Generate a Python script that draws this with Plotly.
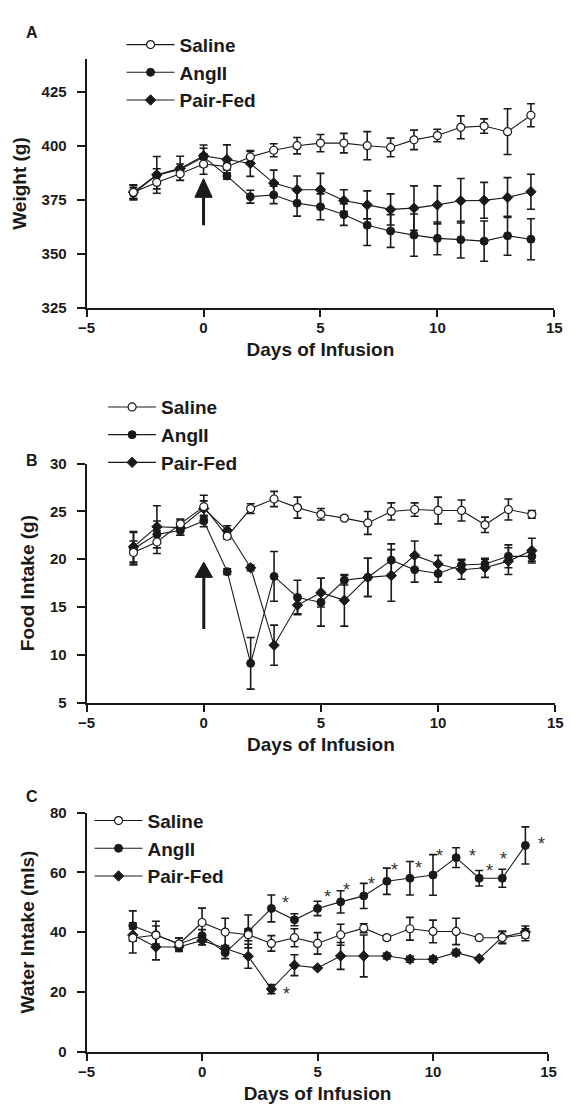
import plotly.graph_objects as go

# ---------------- data ----------------
days = [-3, -2, -1, 0, 1, 2, 3, 4, 5, 6, 7, 8, 9, 10, 11, 12, 13, 14]
series_names = ["Saline", "AngII", "Pair-Fed"]

# Panel A: body weight (g)
saline_w = [378.4, 383.0, 387.0, 391.5, 390.3, 394.8, 397.9, 400.0, 401.2, 401.2, 400.0, 399.2, 402.7, 404.7, 408.5, 409.1, 406.5, 414.1]
saline_w_err = [3.5, 3.0, 3.0, 4.7, 1.5, 2.5, 3.0, 3.8, 4.0, 4.5, 6.5, 4.3, 4.5, 2.9, 5.3, 3.3, 10.6, 5.3]
angii_w = [378.0, 386.3, 389.0, 394.8, 386.0, 376.4, 377.2, 373.4, 371.7, 368.1, 363.2, 360.5, 358.6, 357.1, 356.5, 355.8, 358.3, 356.7]
angii_w_err = [2.5, 3.0, 2.5, 4.0, 1.5, 3.0, 4.0, 6.0, 6.0, 5.0, 9.4, 7.6, 9.8, 7.6, 8.5, 9.3, 9.0, 9.5]
pf_w = [378.5, 386.5, 389.5, 395.3, 393.6, 391.8, 382.7, 379.6, 379.6, 374.6, 372.6, 370.5, 371.1, 372.6, 374.5, 374.7, 376.0, 378.7]
pf_w_err = [3.0, 8.5, 5.6, 5.0, 6.8, 6.0, 6.0, 6.4, 7.6, 5.0, 6.5, 7.2, 10.3, 8.8, 10.3, 8.3, 9.2, 8.1]

# Panel B: food intake (g)
saline_f = [20.7, 21.8, 23.7, 25.5, 22.4, 25.3, 26.3, 25.4, 24.7, 24.3, 23.8, 25.0, 25.2, 25.1, 25.1, 23.6, 25.2, 24.7]
saline_f_err = [1.2, 1.2, 0.5, 1.2, 0.3, 0.5, 0.8, 1.1, 0.6, 0.2, 1.2, 0.9, 0.7, 1.4, 1.1, 0.8, 1.1, 0.4]
angii_f = [21.1, 22.6, 23.0, 24.0, 18.7, 9.1, 18.2, 16.0, 15.5, 17.8, 18.1, 19.9, 18.9, 18.5, 19.4, 19.5, 20.3, 20.3]
angii_f_err = [1.7, 1.4, 0.5, 0.6, 0.3, 2.7, 2.6, 1.8, 2.5, 0.5, 2.0, 1.7, 1.3, 0.9, 0.6, 0.5, 1.2, 0.5]
pf_f = [21.3, 23.4, 23.3, 25.3, 23.0, 19.1, 11.0, 15.2, 16.5, 15.7, 18.1, 18.3, 20.4, 19.5, 18.9, 19.1, 19.8, 20.9]
pf_f_err = [1.6, 2.2, 0.8, 0.8, 0.5, 0.3, 2.1, 0.9, 1.5, 2.7, 2.0, 2.7, 1.5, 0.9, 1.0, 1.0, 1.4, 1.3]

# Panel C: water intake (mls)
saline_wi = [38.0, 39.0, 36.0, 43.2, 40.0, 39.1, 36.2, 38.1, 36.2, 39.1, 41.3, 38.1, 41.1, 40.2, 40.2, 38.1, 38.1, 39.1]
saline_wi_err = [5.0, 3.0, 2.0, 4.8, 4.6, 2.0, 2.6, 3.0, 3.6, 3.5, 1.5, 0.8, 3.8, 3.8, 4.4, 0.5, 2.0, 2.0]
angii_wi = [42.1, 39.1, 36.0, 38.8, 33.1, 40.2, 47.9, 44.1, 47.9, 50.1, 52.1, 57.0, 58.0, 59.1, 64.9, 58.0, 58.0, 69.0]
angii_wi_err = [5.0, 4.5, 2.0, 2.0, 2.0, 5.5, 4.5, 2.0, 2.4, 3.7, 4.2, 4.4, 5.6, 6.8, 3.3, 2.6, 3.0, 6.2]
pf_wi = [39.0, 35.0, 35.0, 37.2, 34.5, 31.9, 20.9, 28.9, 28.0, 32.0, 32.0, 32.0, 30.9, 30.9, 33.1, 31.1, 38.3, 40.0]
pf_wi_err = [2.0, 4.3, 1.5, 1.5, 1.0, 4.0, 1.5, 3.5, 0.3, 4.5, 7.0, 1.0, 1.0, 1.0, 1.0, 0.3, 2.0, 2.0]

# significance markers (panel C) – label positions
star_x = [3.61, 5.41, 6.27, 7.35, 8.33, 9.35, 10.29, 11.69, 12.44, 13.07, 14.68, 3.66]
star_y = [50.6, 52.9, 55.0, 57.0, 61.9, 62.5, 66.4, 66.4, 61.6, 65.5, 70.4, 20.1]

# infusion-start arrows (day, tail value, head-base value, tip value)
arrow_A = (0, 363.2, 376.1, 384.8)
arrow_B = (0, 12.7, 18.1, 19.7)

x_ticks = [-5, 0, 5, 10, 15]
y_ticks_A = [325, 350, 375, 400, 425]
y_ticks_B = [5, 10, 15, 20, 25, 30]
y_ticks_C = [0, 20, 40, 60, 80]

# ---------------- figure ----------------
FONT = "Liberation Sans, Arial, sans-serif"
INK = "#1a1a1a"
fig = go.Figure()

marker_styles = {
    "Saline": dict(symbol="circle", size=8, color="white", line=dict(color=INK, width=1.2)),
    "AngII": dict(symbol="circle", size=8, color=INK, line=dict(color=INK, width=1)),
    "Pair-Fed": dict(symbol="diamond", size=8, color=INK, line=dict(color=INK, width=1)),
}
rank = {"Saline": 1, "AngII": 2, "Pair-Fed": 3}

panels = [
    ("x", "y", "legend", [(angii_w, angii_w_err, "AngII"), (pf_w, pf_w_err, "Pair-Fed"), (saline_w, saline_w_err, "Saline")]),
    ("x2", "y2", "legend2", [(angii_f, angii_f_err, "AngII"), (pf_f, pf_f_err, "Pair-Fed"), (saline_f, saline_f_err, "Saline")]),
    ("x3", "y3", "legend3", [(angii_wi, angii_wi_err, "AngII"), (pf_wi, pf_wi_err, "Pair-Fed"), (saline_wi, saline_wi_err, "Saline")]),
]
for xa, ya, lg, sers in panels:
    for vals, errs, name in sers:
        fig.add_trace(go.Scatter(
            x=days, y=vals, name=name, mode="lines+markers",
            xaxis=xa, yaxis=ya, legend=lg, legendrank=rank[name],
            line=dict(color=INK, width=1.1),
            marker=marker_styles[name],
            error_y=dict(type="data", array=errs, visible=True, color=INK, thickness=1.6, width=4),
            cliponaxis=False,
        ))

tickfont = dict(family=FONT, size=15, color=INK, weight="bold")
titlefont = dict(family=FONT, size=19, color=INK, weight="bold")

def xaxis(dom, anchor):
    return dict(domain=dom, anchor=anchor, range=[-5, 15], tickvals=x_ticks,
                showline=True, linecolor=INK, linewidth=2, ticks="outside", ticklen=7,
                tickwidth=2, tickcolor=INK, showgrid=False, zeroline=False, tickfont=tickfont,
                ticklabelstandoff=-2,
                title=dict(text="Days of Infusion", font=titlefont, standoff=8))

def yaxis(dom, anchor, rng, tv, title):
    return dict(domain=dom, anchor=anchor, range=rng, tickvals=tv,
                showline=True, linecolor=INK, linewidth=2, ticks="outside", ticklen=8,
                tickwidth=2, tickcolor=INK, showgrid=False, zeroline=False, tickfont=tickfont,
                ticklabelstandoff=7,
                title=dict(text=title, font=titlefont, standoff=10))

W, H = 572, 1114
xA = [80 / W, 562 / W]
xB = [80 / W, 563 / W]
xC = [80 / W, 556 / W]
yA = [1 - 303.3 / H, 1 - 51.1 / H]
yB = [1 - 704.3 / H, 1 - 461.7 / H]
yC = [1 - 1058.7 / H, 1 - 816 / H]

legfont = dict(family=FONT, size=19, color=INK, weight="bold")

def legend(xpx, ypx):
    return dict(x=xpx / W, y=1 - ypx / H, xanchor="left", yanchor="top",
                bgcolor="rgba(0,0,0,0)", borderwidth=0, font=legfont,
                itemwidth=48, tracegroupgap=0)

fig.update_layout(
    width=W, height=H, margin=dict(l=0, r=0, t=0, b=0),
    paper_bgcolor="white", plot_bgcolor="white", showlegend=True,
    xaxis=xaxis(xA, "y"), yaxis=yaxis(yA, "x", [325, 440], y_ticks_A, "Weight (g)"),
    xaxis2=xaxis(xB, "y2"), yaxis2=yaxis(yB, "x2", [5, 30], y_ticks_B, "Food Intake (g)"),
    xaxis3=xaxis(xC, "y3"), yaxis3=yaxis(yC, "x3", [0, 80], y_ticks_C, "Water Intake (mls)"),
    legend=legend(116, 17),
    legend2=legend(97, 385),
    legend3=legend(83, 805),
)

# panel letters
for letter, ypx in [("A", 23.5), ("B", 458), ("C", 800)]:
    fig.add_annotation(text=letter, xref="paper", yref="paper", x=15 / W, y=1 - ypx / H,
                       xanchor="left", yanchor="middle", showarrow=False,
                       font=dict(family=FONT, size=16, color=INK, weight="bold"))

# arrows
def add_arrow(arrow, xref, yref, half_w):
    d, tail, base, tip = arrow
    fig.add_shape(type="line", xref=xref, yref=yref, x0=d, x1=d, y0=tail, y1=base,
                  line=dict(color=INK, width=3))
    fig.add_shape(type="path", xref=xref, yref=yref,
                  path=f"M {d - half_w},{base} L {d + half_w},{base} L {d},{tip} Z",
                  fillcolor=INK, line=dict(color=INK, width=1))

add_arrow(arrow_A, "x", "y", 0.37)
add_arrow(arrow_B, "x2", "y2", 0.37)

# asterisks
for sx, sy in zip(star_x, star_y):
    fig.add_annotation(text="*", x=sx, y=sy, xref="x3", yref="y3", showarrow=False,
                       yshift=-3, font=dict(family=FONT, size=18, color="#333333"))

fig.write_html("out.html")
